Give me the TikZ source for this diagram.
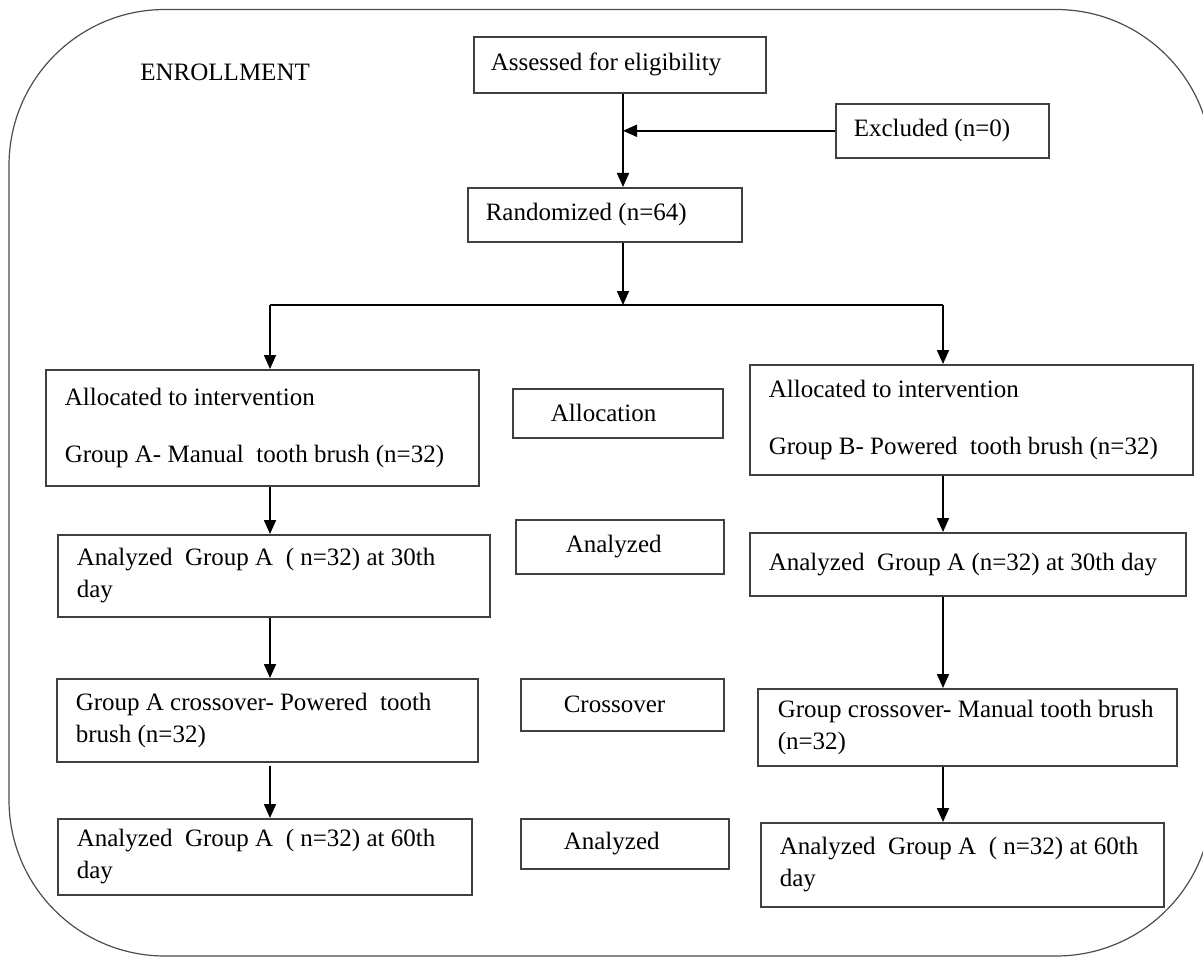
\documentclass[tikz,border=0pt]{standalone}
\usepackage{fontspec}
\setmainfont{Liberation Serif}
\usetikzlibrary{arrows.meta}
\newcommand\myfont{\fontsize{12.5}{16}\selectfont}
\begin{document}
\begin{tikzpicture}[x=0.5pt,y=-0.5pt,
  txt/.style={font=\myfont},
  box/.style={txt, draw=black!75, line width=0.8pt, anchor=north west, align=flush left, inner ysep=0pt},
  arr/.style={draw=black, line width=0.9pt, -{Triangle[length=7pt,width=6pt]}},
  ln/.style={draw=black, line width=0.9pt}]
\useasboundingbox (0,0) rectangle (1203,957);
\draw[black!70, line width=0.6pt, rounded corners=78pt] (9,9.5) rectangle (1212,956);

\node[txt, anchor=west, inner sep=0pt] (enr) at (140,72) {ENROLLMENT};

\node[box, minimum width=146pt, minimum height=28pt, text width=129pt, inner xsep=8.5pt] (assess) at (473,36) {Assessed for eligibility};
\node[box, minimum width=106.5pt, minimum height=27pt, text width=88.5pt, inner xsep=9pt] (excl) at (835,103) {Excluded (n=0)};
\node[box, minimum width=137pt, minimum height=27pt, text width=119pt, inner xsep=9pt] (rand) at (467,187) {Randomized (n=64)};

\node[box, minimum width=216.5pt, minimum height=58pt, text width=197.5pt, inner xsep=9.5pt] (allocL) at (45,369)
  {Allocated to intervention\\[12.5pt]\mbox{Group A- Manual~ tooth brush (n=32)}};
\node[box, minimum width=105pt, minimum height=24.5pt, text width=67pt, inner xsep=19pt] (allocM) at (512,388) {Allocation};
\node[box, minimum width=221.5pt, minimum height=55pt, text width=202.5pt, inner xsep=9.5pt] (allocR) at (749,364)
  {Allocated to intervention\\[12.5pt]\mbox{Group B- Powered~ tooth brush (n=32)}};

\node[box, minimum width=216pt, minimum height=41pt, text width=197pt, inner xsep=9.5pt] (anL1) at (57,534)
  {\mbox{Analyzed~ Group A~ ( n=32) at 30th}\\day};
\node[box, minimum width=104pt, minimum height=27pt, text width=54pt, inner xsep=25pt] (anM1) at (515,519) {Analyzed};
\node[box, minimum width=218pt, minimum height=31.5pt, text width=199pt, inner xsep=9.5pt] (anR1) at (749,532)
  {\mbox{Analyzed~ Group A (n=32) at 30th day}};

\node[box, minimum width=210.5pt, minimum height=41.5pt, text width=191.5pt, inner xsep=9.5pt] (crL) at (56,678)
  {\mbox{Group A crossover- Powered~ tooth}\\brush (n=32)};
\node[box, minimum width=101.5pt, minimum height=26pt, text width=58.5pt, inner xsep=21.5pt] (crM) at (520,678) {Crossover};
\node[box, minimum width=209.5pt, minimum height=38.5pt, text width=189.5pt, inner xsep=10pt] (crR) at (757,688)
  {\mbox{Group crossover- Manual tooth brush}\\(n=32)};

\node[box, minimum width=207pt, minimum height=38pt, text width=188pt, inner xsep=9.5pt] (anL2) at (57,818)
  {\mbox{Analyzed~ Group A~ ( n=32) at 60th}\\day};
\node[box, minimum width=104pt, minimum height=25pt, text width=61pt, inner xsep=21.5pt] (anM2) at (520,818) {Analyzed};
\node[box, minimum width=201.5pt, minimum height=42pt, text width=182.5pt, inner xsep=9.5pt] (anR2) at (760,822)
  {\mbox{Analyzed~ Group A~ ( n=32) at 60th}\\day};

\coordinate (jx) at (623,0);
\coordinate (split) at (623,305);
\coordinate (splitL) at (270,305);
\coordinate (splitR) at (943,305);

\draw[arr] (assess.south -| jx) -- (rand.north -| jx);
\draw[arr] (excl.west) -- (excl.west -| jx);
\draw[arr] (rand.south -| jx) -- (split);
\draw[ln] (splitL) -- (splitR);
\draw[arr] (splitL) -- (allocL.north -| splitL);
\draw[arr] (splitR) -- (allocR.north -| splitR);

\draw[arr] (allocL.south -| splitL) -- (anL1.north -| splitL);
\draw[arr] (anL1.south -| splitL) -- (crL.north -| splitL);
\draw[arr] ([yshift=-1.5pt]crL.south -| splitL) -- (anL2.north -| splitL);

\draw[arr] (allocR.south -| splitR) -- (anR1.north -| splitR);
\draw[arr] (anR1.south -| splitR) -- (crR.north -| splitR);
\draw[arr] (crR.south -| splitR) -- (anR2.north -| splitR);
\end{tikzpicture}
\end{document}
